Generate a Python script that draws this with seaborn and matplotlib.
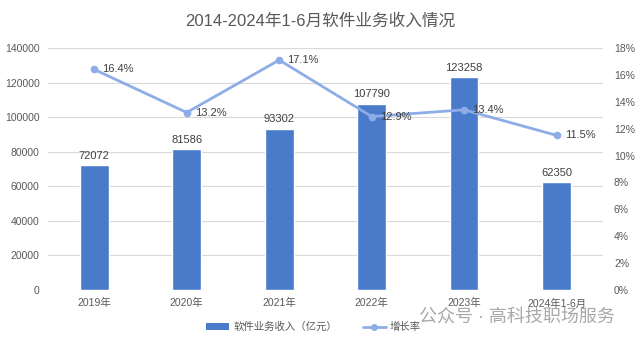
import matplotlib
matplotlib.use("Agg")
import matplotlib.pyplot as plt
import seaborn as sns
import pandas as pd
from matplotlib.patches import Patch
from matplotlib.lines import Line2D
from matplotlib.ticker import FuncFormatter, MultipleLocator

# Data
years = ["2019年", "2020年", "2021年", "2022年", "2023年", "2024年1-6月"]
revenue = [72072, 81586, 93302, 107790, 123258, 62350]
growth = [16.4, 13.2, 17.1, 12.9, 13.4, 11.5]

df = pd.DataFrame({"year": years, "revenue": revenue, "growth": growth})

sns.set_theme(style="white")
plt.rcParams["font.family"] = ["Liberation Sans", "Noto Sans CJK SC", "DejaVu Sans"]

BAR = "#4A7BCB"
LINE = "#8EADE6"
TXT = "#595959"
GRID = "#D9D9D9"

fig = plt.figure(figsize=(6.4, 3.45), dpi=100)
ax = fig.add_axes([0.075, 0.1594, 0.867, 0.7016])

sns.barplot(data=df, x="year", y="revenue", color=BAR, width=0.31,
            saturation=1, ax=ax, zorder=2)
ax.set_ylim(0, 140000)
ax.yaxis.set_major_locator(MultipleLocator(20000))
ax.grid(axis="y", color=GRID, linewidth=0.8, zorder=0)
ax.set_axisbelow(True)
for s in ax.spines.values():
    s.set_visible(False)
ax.set_xlabel("")
ax.set_ylabel("")
ax.tick_params(axis="both", length=0, colors=TXT, labelsize=7.5, pad=6)
ax.tick_params(axis="y", pad=6)

for i, v in enumerate(revenue):
    ax.text(i, v + 2500, f"{v}", ha="center", va="bottom", fontsize=8, color="#404040")

ax2 = ax.twinx()
sns.pointplot(data=df, x="year", y="growth", color=LINE, markers="o",
              markersize=4, linewidth=2, ax=ax2)
ax2.set_ylim(0, 18)
ax2.yaxis.set_major_locator(MultipleLocator(2))
ax2.yaxis.set_major_formatter(FuncFormatter(lambda v, p: f"{v:.0f}%"))
for s in ax2.spines.values():
    s.set_visible(False)
ax2.set_ylabel("")
ax2.set_xlabel("")
ax2.tick_params(axis="y", length=0, colors=TXT, labelsize=7.5, pad=8)
ax2.set_xlim(-0.5, 5.5)

for i, g in enumerate(growth):
    ax2.text(i + 0.09, g, f"{g}%", ha="left", va="center", fontsize=8, color="#404040")

fig.text(0.5, 0.94, "2014-2024年1-6月软件业务收入情况", ha="center", va="center",
         fontsize=12, color=TXT)

handles = [Patch(facecolor=BAR, edgecolor="none"),
           Line2D([0], [0], color=LINE, linewidth=2, marker="o", markersize=4)]
fig.legend(handles, ["软件业务收入（亿元）", "增长率"], loc="center",
           bbox_to_anchor=(0.49, 0.052), ncol=2, frameon=False, fontsize=7.5,
           labelcolor=TXT, handlelength=2.2, columnspacing=2.5, handletextpad=0.4)

fig.text(0.655, 0.078, "公众号 · 高科技职场服务", ha="left", va="center",
         fontsize=13, color="#9a9a9a", alpha=0.85)

fig.savefig("out.png", dpi=100)
